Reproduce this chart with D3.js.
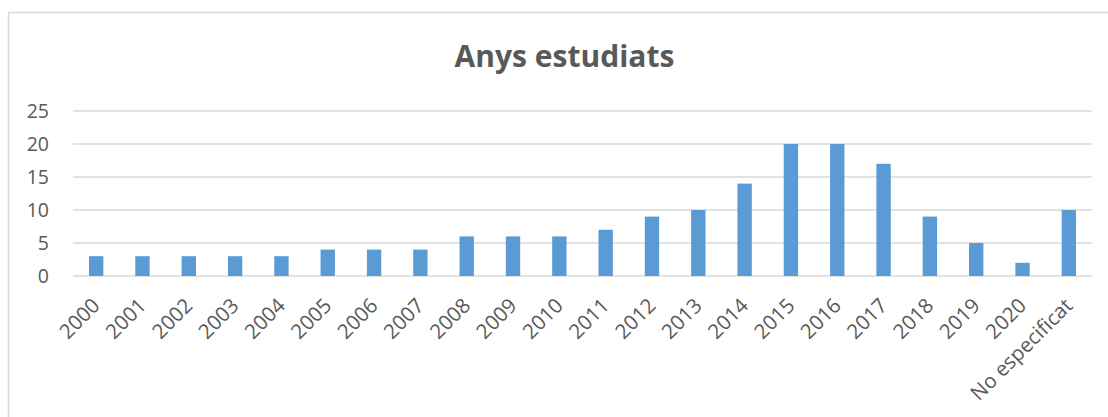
<!DOCTYPE html>
<html>
<head>
<meta charset="utf-8">
<script src="https://cdn.jsdelivr.net/npm/d3@7"></script>
<style>
  body { margin: 0; background: #fff; }
  svg { display: block; font-family: "Open Sans", "Noto Sans", sans-serif; }
</style>
</head>
<body>
<div id="chart"></div>
<script>
// Chart data
var categories = ["2000", "2001", "2002", "2003", "2004", "2005", "2006", "2007",
                  "2008", "2009", "2010", "2011", "2012", "2013", "2014", "2015",
                  "2016", "2017", "2018", "2019", "2020", "No especificat"];
var values = [3, 3, 3, 3, 3, 4, 4, 4, 6, 6, 6, 7, 9, 10, 14, 20, 20, 17, 9, 5, 2, 10];
var yTicks = [0, 5, 10, 15, 20, 25];
var title = "Anys estudiats";

window.onload = function() {
    drawChart();
};

function drawChart() {
    var w = 1108;
    var h = 417;
    var left = 73, right = 1092, top = 111, bottom = 276;

    var svg = d3.select("#chart")
                .append("svg")
                .attr("width", w)
                .attr("height", h);

    // chart frame (runs off the right and bottom edges)
    svg.append("rect")
       .attr("x", 8.5)
       .attr("y", 12.5)
       .attr("width", 1120)
       .attr("height", 430)
       .attr("fill", "none")
       .attr("stroke", "#d9d9d9")
       .attr("stroke-width", 1.5);

    var x = d3.scaleBand()
              .domain(categories)
              .range([left, right])
              .paddingInner(0.69)
              .paddingOuter(0.345);

    var y = d3.scaleLinear()
              .domain([0, 25])
              .range([bottom, top]);

    // gridlines
    svg.selectAll("line.grid")
       .data(yTicks)
       .enter()
       .append("line")
       .attr("class", "grid")
       .attr("x1", left)
       .attr("x2", right)
       .attr("y1", function(d) { return y(d); })
       .attr("y2", function(d) { return y(d); })
       .attr("stroke", "#d9d9d9")
       .attr("stroke-width", 1.5);

    // y labels
    svg.selectAll("text.ylab")
       .data(yTicks)
       .enter()
       .append("text")
       .attr("class", "ylab")
       .attr("x", 49)
       .attr("y", function(d) { return y(d); })
       .attr("dy", "0.36em")
       .attr("text-anchor", "end")
       .attr("font-size", 19.5)
       .attr("fill", "#595959")
       .text(function(d) { return d; });

    // bars
    svg.selectAll("rect.bar")
       .data(values)
       .enter()
       .append("rect")
       .attr("class", "bar")
       .attr("x", function(d, i) { return x(categories[i]); })
       .attr("y", function(d) { return y(d); })
       .attr("width", x.bandwidth())
       .attr("height", function(d) { return y(0) - y(d); })
       .attr("fill", "#5b9bd5");

    // x labels, rotated
    svg.selectAll("text.xlab")
       .data(categories)
       .enter()
       .append("text")
       .attr("class", "xlab")
       .attr("transform", function(d) {
           var cx = x(d) + x.bandwidth() / 2 + 5;
           return "translate(" + cx + "," + (bottom + 31) + ") rotate(-45)";
       })
       .attr("text-anchor", "end")
       .attr("font-size", 20.5)
       .attr("fill", "#595959")
       .text(function(d) { return d; });

    // title
    svg.append("text")
       .attr("x", 564.5)
       .attr("y", 67)
       .attr("text-anchor", "middle")
       .attr("font-size", 30)
       .attr("font-weight", "bold")
       .attr("fill", "#595959")
       .text(title);
}
</script>
</body>
</html>
